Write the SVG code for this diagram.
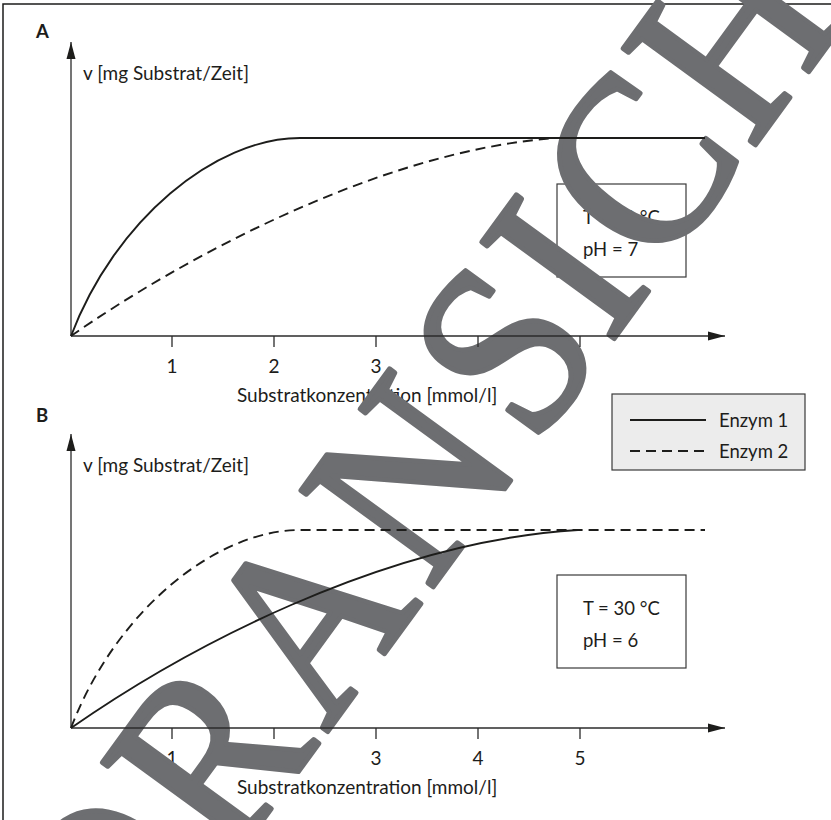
<svg xmlns="http://www.w3.org/2000/svg" width="831" height="820" viewBox="0 0 831 820">
<defs>
<style>
.t{font-family:Lato,"Noto Sans",sans-serif;font-size:19px;fill:#1d1d1b}
.s{font-size:18.5px}
.m{text-anchor:middle}
.lab{font-family:Lato,"Noto Sans",sans-serif;font-size:18.5px;font-weight:bold;fill:#1d1d1b}
.ax{stroke:#2b2b2b;stroke-width:1.3;fill:none}
.c{fill:none;stroke:#1d1d1b;stroke-width:1.9}
.d{stroke-dasharray:10 6}
.box{fill:#fff;stroke:#3a3a3a;stroke-width:1.2}
.wm{font-family:"Liberation Serif","Times New Roman",serif;font-size:250px;fill:#6d6e71;stroke:#6d6e71;stroke-width:5;stroke-linejoin:round}
</style>
<marker id="arr" markerUnits="userSpaceOnUse" markerWidth="18" markerHeight="10" refX="17" refY="5" orient="auto"><path d="M0,0.5 L17,5 L0,9.5 z" fill="#1d1d1b"/></marker>
</defs>
<rect width="831" height="820" fill="#fff"/>
<path d="M3,820 V4 H831" stroke="#1d1d1b" stroke-width="1.5" fill="none"/>

<g id="panelA-labels">
<text x="36" y="38" class="lab">A</text>
<text x="83" y="80" class="t">v [mg Substrat/Zeit]</text>
<text x="172" y="373" class="t m">1</text>
<text x="274" y="373" class="t m">2</text>
<text x="376" y="373" class="t m">3</text>
<text x="478" y="373" class="t m">4</text>
<text x="580" y="373" class="t m">5</text>
<text x="237" y="402" class="t">Substratkonzentration [mmol/l]</text>
</g>
<g id="boxA">
<rect x="557" y="184" width="129" height="93" class="box"/>
<text x="583" y="224" class="t s">T = 30 °C</text>
<text x="583" y="256" class="t s">pH = 7</text>
</g>

<g id="panelB-labels">
<text x="36" y="422" class="lab">B</text>
<text x="83" y="472" class="t">v [mg Substrat/Zeit]</text>
<text x="172" y="765" class="t m">1</text>
<text x="274" y="765" class="t m">2</text>
<text x="376" y="765" class="t m">3</text>
<text x="478" y="765" class="t m">4</text>
<text x="580" y="765" class="t m">5</text>
<text x="237" y="794" class="t">Substratkonzentration [mmol/l]</text>
</g>
<g id="boxB">
<rect x="557" y="575" width="129" height="93" class="box"/>
<text x="583" y="615" class="t s">T = 30 °C</text>
<text x="583" y="647" class="t s">pH = 6</text>
</g>

<g id="legend">
<rect x="612" y="394" width="193" height="76" fill="#ececec" stroke="#3a3a3a" stroke-width="1.2"/>
<path d="M630,420 H706" class="c" stroke-width="1.5"/>
<path d="M630,451 H706" class="c d" stroke-width="1.5"/>
<text x="719" y="427" class="t s">Enzym 1</text>
<text x="719" y="458" class="t s">Enzym 2</text>
</g>

<g id="watermark">
<text class="wm" transform="translate(374,668) rotate(-53.9) scale(0.9,1)" x="-463.6 -270 -90.25 104.2 302 443.7 540 712" y="0">ORANSICH</text>
</g>

<g id="connectors">
<path d="M71,336 V42" class="ax" marker-end="url(#arr)"/>
<path d="M71,336 H725" class="ax" marker-end="url(#arr)"/>
<path d="M172,336 v11 M274,336 v11 M376,336 v11 M478,336 v11 M580,336 v11" class="ax"/>
<path d="M71,336 C115,220 215,138 300,138 H705" class="c"/>
<path d="M71,336 C180,260 380,150 557,138" class="c d"/>

<path d="M71,728 V434" class="ax" marker-end="url(#arr)"/>
<path d="M71,728 H725" class="ax" marker-end="url(#arr)"/>
<path d="M172,728 v11 M274,728 v11 M376,728 v11 M478,728 v11 M580,728 v11" class="ax"/>
<path d="M71,728 C115,612 215,530 300,530 H705" class="c d"/>
<path d="M71,728 C180,652 380,542 578,530" class="c"/>
</g>
</svg>
